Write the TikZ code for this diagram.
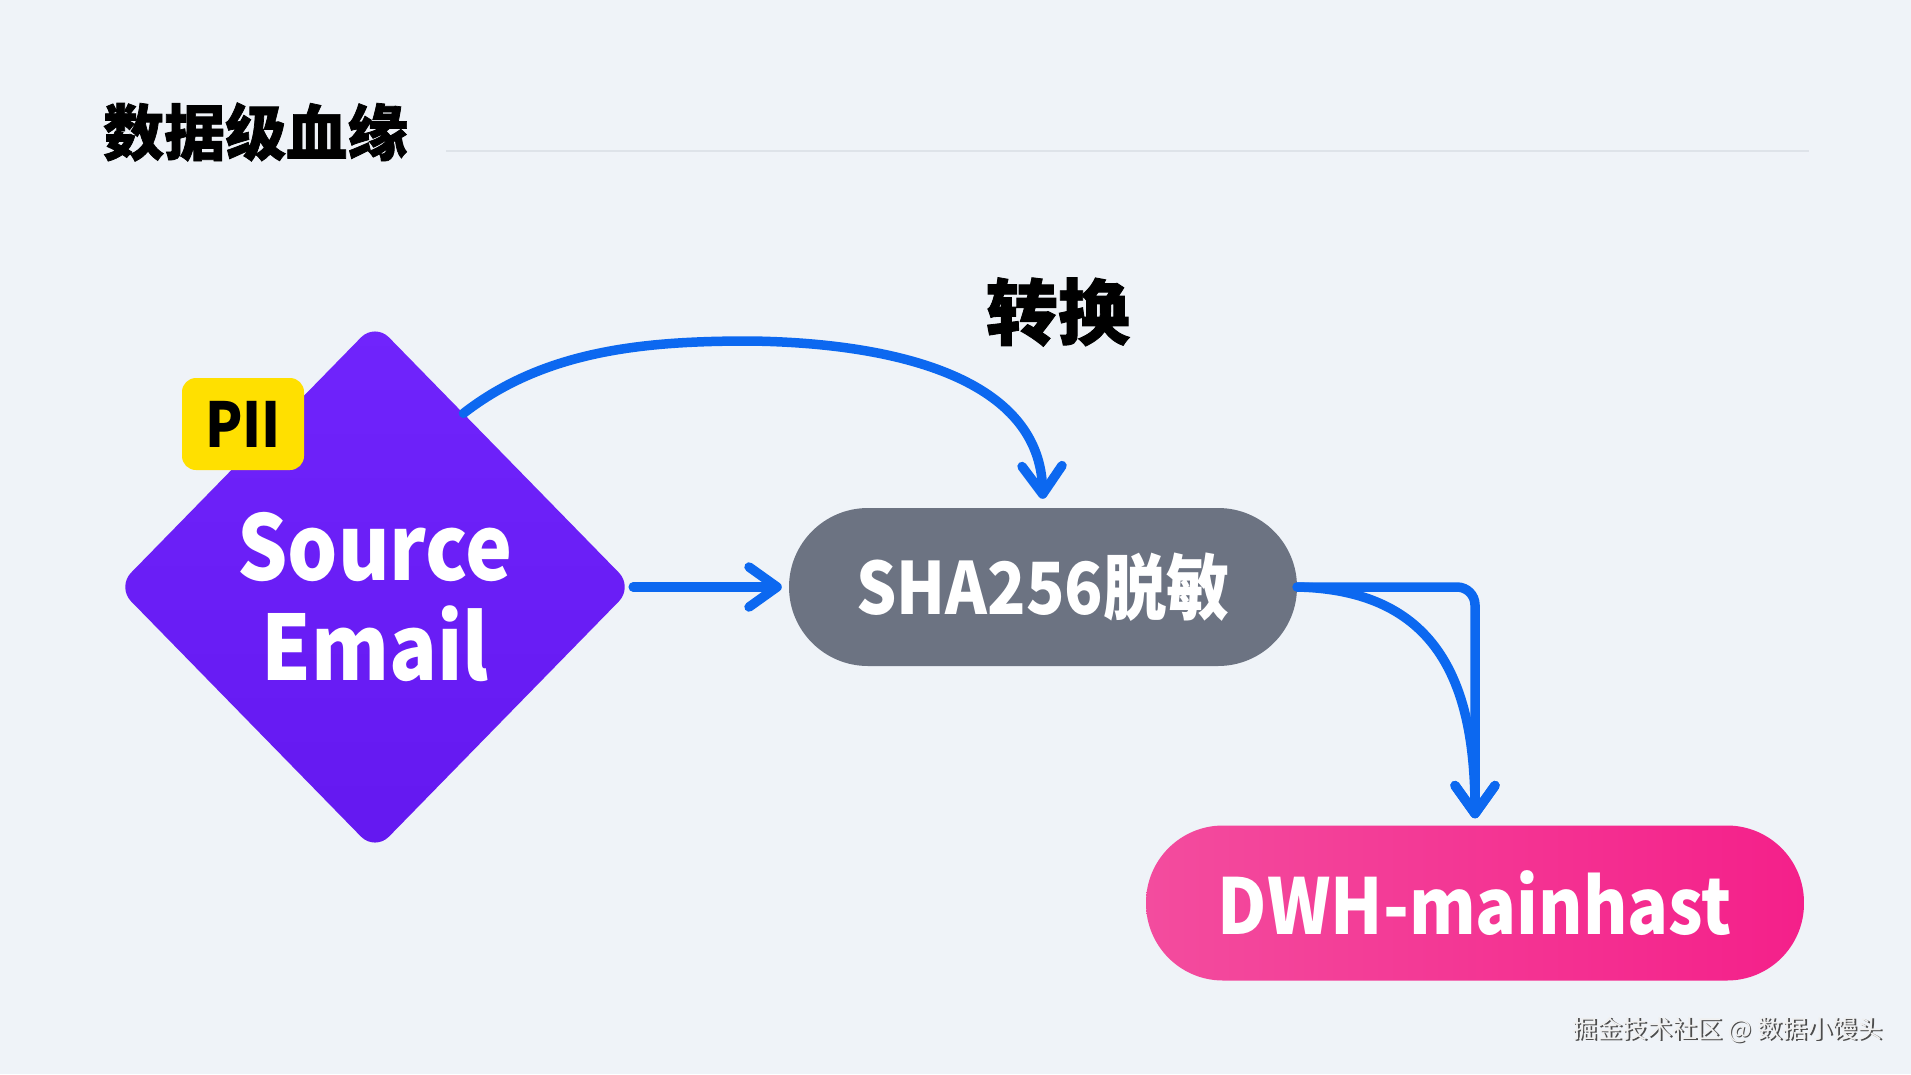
\documentclass[tikz,border=0pt]{standalone}
\usepackage{fontspec}
\setmainfont{Noto Sans CJK SC}
\newfontfamily\narrowsans{Noto Sans CJK SC}[FakeStretch=0.88]
\newfontfamily\heavycjk{Noto Sans CJK SC}[BoldFeatures={FakeBold=1.2}]
\usetikzlibrary{shapes.geometric,arrows.meta}
\definecolor{bgc}{RGB}{239,243,248}
\definecolor{violetA}{RGB}{112,36,252}
\definecolor{violetB}{RGB}{100,24,240}
\definecolor{pillgray}{RGB}{108,115,130}
\definecolor{pinkA}{RGB}{243,76,158}
\definecolor{pinkB}{RGB}{244,32,138}
\definecolor{piiyellow}{RGB}{255,224,0}
\definecolor{flowblue}{RGB}{12,104,240}
\definecolor{rulegray}{RGB}{222,227,233}
\tikzset{
  flow/.style={draw=flowblue, line width=9.5pt, line cap=round, line join=round,
    -{Straight Barb[length=28pt,width=40pt,round]}},
  pill/.style={rounded corners=#1, inner sep=0pt, text=white},
}
\begin{document}
\begin{tikzpicture}[x=1pt,y=-1pt]
\useasboundingbox (0,0) rectangle (1911,1074);
\fill[bgc] (0,0) rectangle (1911,1074);
% title
\node[anchor=west, inner sep=0pt, font=\heavycjk\bfseries\fontsize{61}{66}\selectfont] (title) at (103,132) {数据级血缘};
\coordinate (ruleL) at (446,151);
\coordinate (ruleR) at (1809,151);
\draw[rulegray, line width=2pt] (ruleL) -- (ruleR);
% nodes
\node[diamond, minimum width=516pt, minimum height=528pt, inner sep=0pt, rounded corners=20pt,
  top color=violetA, bottom color=violetB, text=white, align=center,
  font=\narrowsans\bfseries\fontsize{90}{98}\selectfont] (src) at (375,587)
  {\raisebox{-9pt}[\height][\depth]{Source}\\\raisebox{-11pt}[\height][\depth]{Email}};
\node[rounded corners=14pt, minimum width=122pt, minimum height=92pt, inner sep=0pt,
  fill=piiyellow, font=\narrowsans\bfseries\fontsize{62}{66}\selectfont] (pii) at (243,424) {PII};
\node[pill=79pt, minimum width=508pt, minimum height=158pt, fill=pillgray,
  font=\narrowsans\bfseries\fontsize{72}{78}\selectfont] (sha) at (1043,587) {SHA256脱敏};
\node[pill=77pt, minimum width=658pt, minimum height=155pt, left color=pinkA, right color=pinkB,
  font=\narrowsans\bfseries\fontsize{77}{82}\selectfont] (dwh) at (1475,903) {DWH-mainhast};
\node[inner sep=0pt, font=\heavycjk\bfseries\fontsize{72}{76}\selectfont] (lbl) at (1058,312) {转换};
% connectors
\draw[flow, shorten >=9pt] (src.63) .. controls (545,350) and (645,341) .. (750,341)
  .. controls (900,343) and (1040,380) .. (sha.north);
\draw[flow, shorten >=7pt] (src.east) -- (sha.west);
\draw[flow, shorten >=7pt, rounded corners=18pt] (sha.east) -| (dwh.north);
\draw[flow, shorten >=7pt] (sha.east) .. controls (1435,590) and (1475,680) .. (dwh.north);
% watermark
\node[anchor=east, inner sep=0pt, text=gray!60!black, font=\fontsize{25}{28}\selectfont] (wm0) at (1884.4,1031.4) {掘金技术社区 @ 数据小馒头};
\node[anchor=east, inner sep=0pt, text=white!88!gray, font=\fontsize{25}{28}\selectfont] (wm) at (1883,1030) {掘金技术社区 @ 数据小馒头};
\end{tikzpicture}
\end{document}
